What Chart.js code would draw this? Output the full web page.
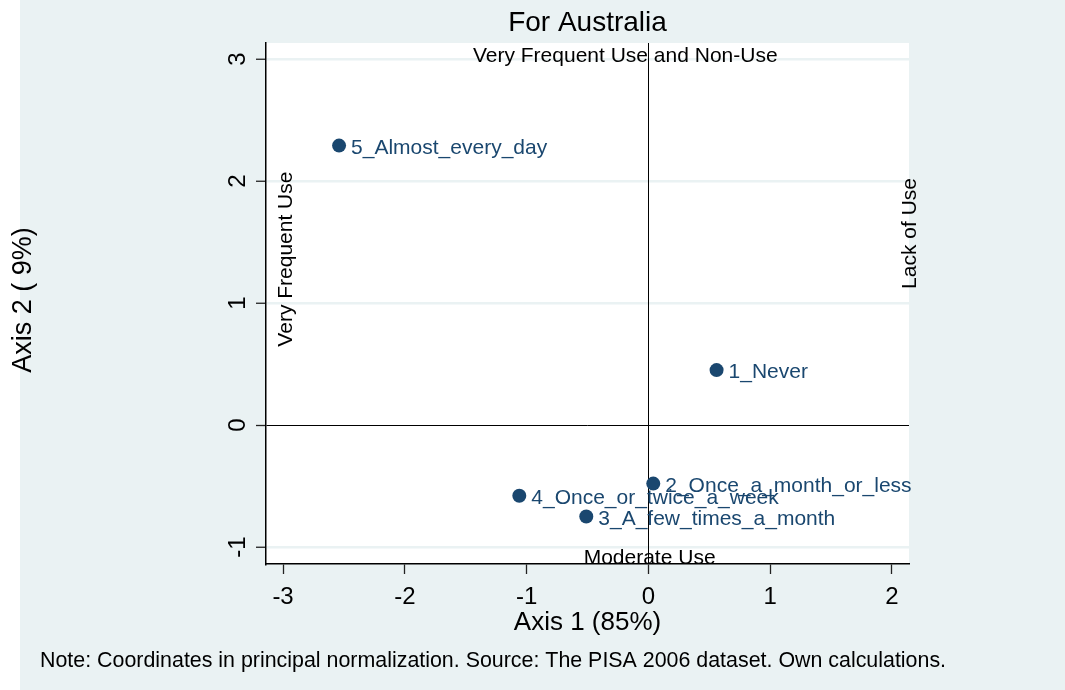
<!DOCTYPE html>
<html>
<head>
<meta charset="utf-8">
<script src="https://cdn.jsdelivr.net/npm/chart.js@4.4.1/dist/chart.umd.min.js"></script>
<style>
  html, body { margin: 0; padding: 0; background: #fff; }
  canvas { display: block; }
</style>
</head>
<body>
<canvas id="chart" width="1065" height="690"></canvas>
<script>
// correspondence analysis coordinates
const categories = ["1_Never", "2_Once_a_month_or_less", "3_A_few_times_a_month",
  "4_Once_or_twice_a_week", "5_Almost_every_day"];
const axis1 = [0.56, 0.04, -0.51, -1.06, -2.54];
const axis2 = [0.45, -0.48, -0.75, -0.58, 2.29];
const xTicks = [-3, -2, -1, 0, 1, 2];
const yTicks = [-1, 0, 1, 2, 3];

const FONT = "'Liberation Sans', Arial, sans-serif";
const bg = "#eaf2f3";
const navy = "#1a476f";

const backdrop = {
  id: "backdrop",
  beforeDraw(chart) {
    const { ctx, chartArea: a } = chart;
    ctx.save();
    ctx.fillStyle = "#fff";
    ctx.fillRect(0, 0, chart.width, chart.height);
    ctx.fillStyle = bg;
    ctx.fillRect(20, 0, chart.width - 20, chart.height);
    ctx.fillStyle = "#fff";
    ctx.fillRect(a.left, a.top, a.right - a.left, a.bottom - a.top);
    ctx.restore();
  }
};

function vText(ctx, txt, x, y) {
  ctx.save();
  ctx.translate(x, y);
  ctx.rotate(-Math.PI / 2);
  ctx.textAlign = "center";
  ctx.fillText(txt, 0, 0);
  ctx.restore();
}

const labels = {
  id: "labels",
  afterDraw(chart) {
    const { ctx, chartArea: a } = chart;
    const xs = chart.scales.x, ys = chart.scales.y;
    ctx.save();
    ctx.textBaseline = "alphabetic";

    // point labels
    ctx.fillStyle = navy;
    ctx.font = "21px " + FONT;
    ctx.textAlign = "left";
    chart.getDatasetMeta(0).data.forEach((pt, i) => {
      ctx.fillText(categories[i], pt.x + 12, pt.y + 8);
    });

    ctx.fillStyle = "#000";
    // y tick labels, rotated like Stata
    ctx.font = "24px " + FONT;
    yTicks.forEach(v => vText(ctx, String(v), 245, ys.getPixelForValue(v)));

    // quadrant captions
    ctx.font = "21px " + FONT;
    ctx.textAlign = "center";
    ctx.fillText("Very Frequent Use and Non-Use", xs.getPixelForValue(-0.19), 62);
    ctx.fillText("Moderate Use", xs.getPixelForValue(0.01), a.bottom);
    vText(ctx, "Very Frequent Use", 292, ys.getPixelForValue(1.36));
    vText(ctx, "Lack of Use", 916, ys.getPixelForValue(1.57));

    // titles
    ctx.textAlign = "center";
    ctx.font = "28px " + FONT;
    ctx.fillText("For Australia", (a.left + a.right) / 2, 31);
    ctx.font = "26px " + FONT;
    ctx.fillText("Axis 1 (85%)", (a.left + a.right) / 2, 630);
    ctx.font = "27px " + FONT;
    vText(ctx, "Axis 2 ( 9%)", 31, 300);

    ctx.textAlign = "left";
    ctx.font = "21.4px " + FONT;
    ctx.fillText("Note: Coordinates in principal normalization. Source: The PISA 2006 dataset. Own calculations.", 40, 667);
    ctx.restore();
  }
};

new Chart(document.getElementById("chart"), {
  type: "scatter",
  data: {
    datasets: [{
      data: axis1.map((x, i) => ({ x: x, y: axis2[i] })),
      backgroundColor: navy,
      borderWidth: 0,
      pointRadius: 7,
      pointHoverRadius: 7
    }]
  },
  options: {
    responsive: false,
    animation: false,
    layout: { padding: { left: 0, top: 43, right: 156, bottom: 0 } },
    plugins: { legend: { display: false }, tooltip: { enabled: false }, title: { display: false } },
    scales: {
      x: {
        type: "linear",
        min: -3.14,
        max: 2.14,
        afterBuildTicks: s => { s.ticks = xTicks.map(v => ({ value: v })); },
        afterFit: s => { s.height = 126; },
        ticks: {
          includeBounds: false,
          color: "#000",
          font: { family: FONT, size: 24 },
          padding: 9,
          maxRotation: 0
        },
        grid: {
          z: -1,
          drawOnChartArea: true,
          color: c => (c.tick && c.tick.value === 0 ? "#000" : "rgba(0,0,0,0)"),
          lineWidth: 1,
          tickColor: "#222",
          tickWidth: 1.3,
          tickLength: 10
        },
        border: { display: true, color: "#000", width: 1.5 }
      },
      y: {
        type: "linear",
        min: -1.139,
        max: 3.131,
        afterBuildTicks: s => { s.ticks = yTicks.map(v => ({ value: v })); },
        afterFit: s => { s.width = 266; },
        ticks: { display: false, includeBounds: false },
        grid: {
          z: -2,
          color: c => (c.tick && c.tick.value === 0 ? "#000" : bg),
          lineWidth: c => (c.tick && c.tick.value === 0 ? 1 : 2.5),
          tickColor: "#222",
          tickWidth: 1.3,
          tickLength: 10
        },
        border: { display: true, color: "#000", width: 1.5 }
      }
    }
  },
  plugins: [backdrop, labels]
});
</script>
</body>
</html>
